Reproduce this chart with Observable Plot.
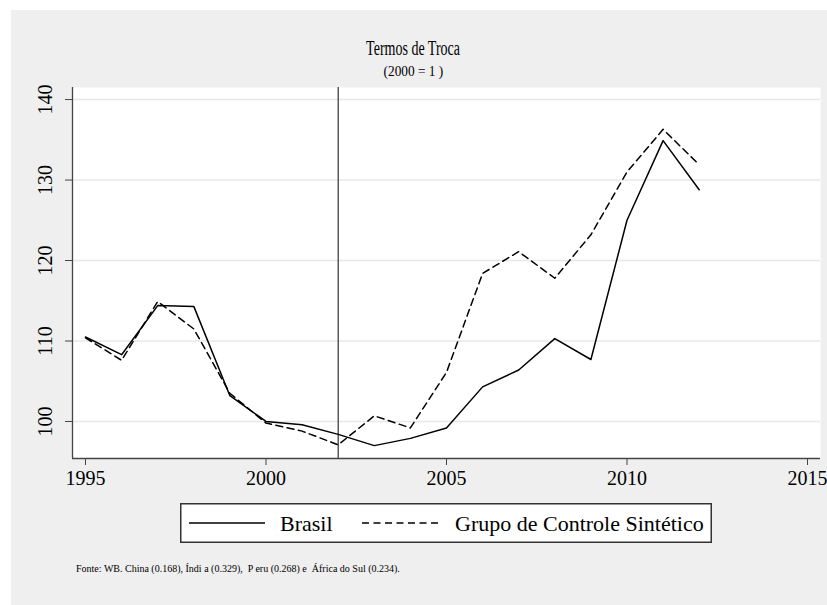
<!DOCTYPE html>
<html><head><meta charset="utf-8">
<script src="https://cdn.jsdelivr.net/npm/d3@7"></script>
<script src="https://cdn.jsdelivr.net/npm/@observablehq/plot@0.6"></script>
<style>
html,body{margin:0;padding:0;background:#fff;}
body{width:827px;height:605px;overflow:hidden;position:relative;font-family:"Liberation Serif","Times New Roman",Times,serif;color:#000;}
#panel{position:absolute;left:11px;top:10px;width:816px;height:595px;background:#efefef;}
#chart{position:absolute;left:0;top:0;}
.t{position:absolute;left:0;width:827px;text-align:center;white-space:nowrap;}
.t span{display:inline-block;transform-origin:50% 50%;}
#title{top:36px;font-size:20px;line-height:24px;}
#title span{transform:scaleX(0.7);}
#subtitle{top:64px;font-size:14px;line-height:16px;}
#subtitle span{transform:scaleX(0.95);}
#legend{position:absolute;left:180px;top:503px;}
#caption{position:absolute;left:76px;top:563px;font-size:10px;line-height:12px;white-space:pre;}
</style></head>
<body>
<div id="panel"></div>
<div id="chart"></div>
<div class="t" id="title"><span>Termos de Troca</span></div>
<div class="t" id="subtitle"><span>(2000 = 1 )</span></div>
<div id="legend"></div>
<div id="caption">Fonte: WB. China (0.168), Índi a (0.329),  P eru (0.268) e  África do Sul (0.234).</div>
<script>
const years = [1995,1996,1997,1998,1999,2000,2001,2002,2003,2004,2005,2006,2007,2008,2009,2010,2011,2012];
const brasil = [110.5,108.3,114.4,114.3,103.2,100.0,99.6,98.4,97.0,97.9,99.2,104.3,106.4,110.3,107.7,125.0,134.9,128.8];
const sintetico = [110.4,107.6,114.9,111.5,103.5,99.8,98.8,97.1,100.7,99.2,106.1,118.4,121.1,117.8,123.2,131.0,136.3,131.9];
const seriesNames = ["Brasil","Grupo de Controle Sintético"];
const xTicks = [1995,2000,2005,2010,2015];
const yTicks = [100,110,120,130,140];
const treatmentYear = [2002];

const FONT = "'Liberation Serif','Times New Roman',Times,serif";
const data = [];
years.forEach((y,i)=>{
  data.push({year:y, value:brasil[i], serie:seriesNames[0]});
  data.push({year:y, value:sintetico[i], serie:seriesNames[1]});
});
const xDomain = [1994.64, 2015.36];
const yDomain = [95.4, 141.5];
const axisColor = "#444";

const chart = Plot.plot({
  width: 827,
  height: 495,
  marginLeft: 72,
  marginRight: 7,
  marginTop: 87,
  marginBottom: 37,
  style: {background:"transparent", fontFamily:FONT, color:"#000"},
  x: {domain: xDomain},
  y: {domain: yDomain},
  marks: [
    Plot.frame({fill:"white", stroke:null}),
    Plot.gridY(yTicks, {stroke:"#e8e8e8", strokeOpacity:1, strokeWidth:1.5}),
    Plot.ruleX(treatmentYear, {stroke:"#333", strokeWidth:1.2}),
    Plot.line(data.filter(d=>d.serie===seriesNames[0]), {x:"year", y:"value", stroke:"#000", strokeWidth:1.5}),
    Plot.line(data.filter(d=>d.serie===seriesNames[1]), {x:"year", y:"value", stroke:"#000", strokeWidth:1.5, strokeDasharray:"7,4.5"}),
    Plot.ruleX([xDomain[0]], {stroke:axisColor, strokeWidth:1.3}),
    Plot.ruleY([yDomain[0]], {stroke:axisColor, strokeWidth:1.3}),
    Plot.axisX({ticks:xTicks, tickSize:7, tickPadding:5, tickFormat:d=>String(d), fontSize:20, stroke:axisColor, label:null}),
    Plot.axisY({ticks:yTicks, tickSize:7, tickFormat:()=>"", stroke:axisColor, label:null}),
    Plot.text(yTicks, {x:()=>xDomain[0], y:d=>d, text:d=>String(d), rotate:-90, dx:-27, fontSize:20, textAnchor:"middle", fill:"#000"})
  ]
});
document.getElementById("chart").appendChild(chart);

// Legend
const lw = 532, lh = 40;
const svg = d3.select("#legend").append("svg").attr("width", lw).attr("height", lh);
svg.append("rect").attr("x",0.75).attr("y",0.75).attr("width",lw-1.5).attr("height",lh-1.5)
  .attr("fill","white").attr("stroke","#333").attr("stroke-width",1.5);
const items = [
  {name:seriesNames[0], x1:9, x2:85, tx:100, dash:null},
  {name:seriesNames[1], x1:182, x2:261, tx:275, dash:"7,4.5"}
];
items.forEach(it=>{
  svg.append("line").attr("x1",it.x1).attr("x2",it.x2).attr("y1",lh/2).attr("y2",lh/2)
    .attr("stroke","#000").attr("stroke-width",1.5).attr("stroke-dasharray",it.dash);
  svg.append("text").attr("x",it.tx).attr("y",lh/2).attr("dy","0.35em")
    .attr("font-size",22).attr("font-family",FONT).text(it.name);
});
</script>
</body></html>
